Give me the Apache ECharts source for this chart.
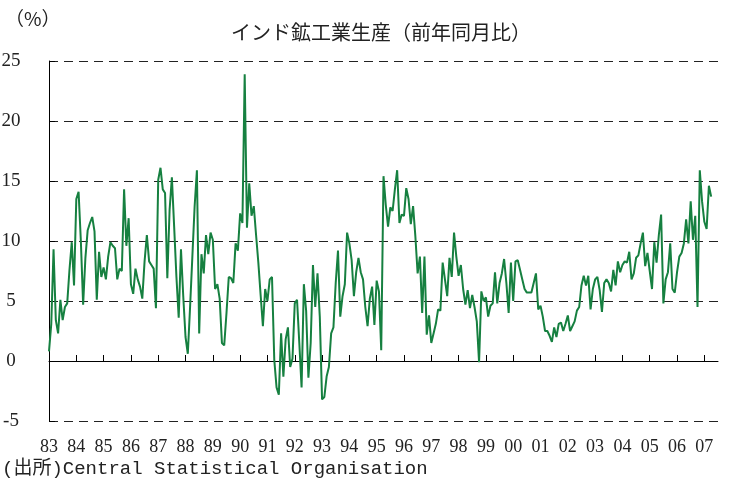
<!DOCTYPE html>
<html>
<head>
<meta charset="utf-8">
<script src="https://cdn.jsdelivr.net/npm/echarts@6/dist/echarts.min.js"></script>
<style>
html,body{margin:0;padding:0;background:#fff;}
#chart{width:731px;height:484px;}
</style>
</head>
<body>
<div id="chart"></div>
<script>
// Year tick labels (two-digit), one per January
const yearLabels = ['83','84','85','86','87','88','89','90','91','92','93','94','95','96','97','98','99','00','01','02','03','04','05','06','07'];
// Months shown on the axis after the last observation (axis runs to Jul 2007)
const trailingEmptyMonths = 3;

// India index of industrial production, y/y % change, monthly from Jan 1983
const yoyGrowth = [
  0.8, 3.1, 9.3, 3.4, 2.3, 5.1, 3.4, 4.5, 4.8, 7.6, 9.9, 6.3,
  13.5, 14.1, 10.0, 4.7, 8.6, 10.9, 11.5, 12.0, 10.8, 5.1, 9.1, 7.0,
  7.8, 6.8, 8.7, 9.9, 9.6, 9.4, 6.8, 7.7, 7.5, 14.3, 9.6, 11.9,
  6.4, 5.6, 7.7, 6.8, 6.2, 5.2, 8.3, 10.5, 8.3, 8.0, 7.7, 4.4,
  15.1, 16.1, 14.3, 14.0, 6.9, 12.6, 15.3, 11.2, 7.0, 3.6, 9.3, 5.4,
  2.0, 0.6, 4.5, 8.7, 12.9, 15.9, 2.3, 8.9, 7.3, 10.5, 8.9, 10.7,
  10.1, 6.0, 6.4, 5.2, 1.5, 1.3, 4.0, 7.0, 6.9, 6.5, 9.8, 9.2,
  12.3, 11.5, 23.9, 11.1, 14.8, 12.1, 12.9, 10.5, 8.2, 5.5, 2.9, 6.0,
  5.0, 6.8, 7.0, 0.1, -2.2, -2.8, 2.3, -1.3, 1.8, 2.8, -0.5, 0.2,
  4.8, 5.1, 1.5, -2.2, 6.4, 4.2, -1.4, 1.5, 8.0, 4.5, 7.3, 3.7,
  -3.2, -3.0, -1.3, -0.5, 2.3, 2.8, 6.5, 9.2, 3.7, 5.4, 6.4, 10.7,
  9.8, 8.4, 5.4, 7.4, 8.6, 7.4, 6.8, 4.5, 2.9, 5.2, 6.2, 3.0,
  6.7, 5.8, 0.9, 15.4, 13.0, 11.2, 12.8, 12.5, 14.3, 15.9, 11.5, 12.2,
  12.1, 14.4, 13.5, 11.4, 12.9, 10.4, 7.3, 8.7, 4.0, 8.7, 2.2, 3.8,
  1.5, 2.3, 3.1, 4.3, 4.2, 8.2, 6.8, 5.4, 8.6, 7.0, 10.7, 8.7,
  7.1, 8.0, 6.0, 4.7, 5.9, 4.4, 5.5, 4.5, 3.3, -0.1, 5.8, 5.0,
  5.3, 3.7, 4.6, 4.8, 7.4, 4.8, 6.5, 7.3, 8.5, 6.5, 4.0, 8.2,
  5.0, 8.3, 8.4, 7.6, 6.8, 6.0, 5.7, 5.7, 5.7, 6.5, 7.3, 4.3,
  4.6, 3.7, 2.5, 2.5, 2.1, 1.6, 2.8, 2.0, 3.1, 3.2, 2.5, 3.1,
  3.8, 2.5, 2.9, 3.3, 4.2, 4.5, 6.3, 7.1, 6.3, 7.1, 4.3, 6.0,
  6.8, 7.0, 5.9, 4.1, 6.5, 6.8, 6.5, 5.8, 7.6, 6.3, 8.3, 7.4,
  8.0, 8.3, 8.2, 9.1, 6.8, 7.3, 8.6, 8.8, 9.8, 10.7, 7.9, 9.0,
  7.5, 6.0, 9.9, 8.2, 10.5, 12.2, 4.8, 6.8, 7.4, 9.8, 6.0, 5.7,
  7.4, 8.7, 9.0, 9.8, 11.8, 9.8, 13.3, 10.1, 12.1, 4.5, 15.9, 13.3,
  11.6, 11.0, 14.6, 13.7
];

// Y axis ticks
const yMin = -5, yMax = 25, yStep = 5;

// Monthly categories: "83" for January, "83/2" ... for other months
const categories = [];
const totalMonths = yoyGrowth.length + trailingEmptyMonths;
for (let i = 0; i < totalMonths; i++) {
  const y = yearLabels[Math.floor(i / 12)];
  const m = i % 12;
  categories.push(m === 0 ? y : y + '/' + (m + 1));
}

const chart = echarts.init(document.getElementById('chart'), null, {renderer: 'canvas'});
const isJan = (idx) => idx % 12 === 0;

chart.setOption({
  animation: false,
  backgroundColor: '#ffffff',
  grid: {left: 49, right: 13, top: 61, bottom: 63, containLabel: false, outerBoundsMode: 'none'},
  graphic: [
    {type: 'text', x: 5, y: 19, style: {text: '（%）', font: '19px "Noto Sans CJK JP"', fill: '#222', align: 'left', verticalAlign: 'middle'}},
    {type: 'text', x: 381, y: 32, style: {text: 'インド鉱工業生産（前年同月比）', font: '20px "Noto Sans CJK JP"', fill: '#222', align: 'center', verticalAlign: 'middle'}},
    {type: 'text', x: 2, y: 469, style: {text: '(出所)Central Statistical Organisation', font: '19px "Liberation Mono", "Noto Sans CJK JP"', fill: '#222', align: 'left', verticalAlign: 'middle'}}
  ],
  xAxis: [
    {
      // year labels along the bottom of the plot
      type: 'category',
      data: categories,
      boundaryGap: false,
      position: 'bottom',
      axisLine: {show: false, onZero: false},
      axisTick: {show: false},
      axisLabel: {
        interval: (idx) => isJan(idx),
        formatter: (v) => v.split('/')[0],
        margin: 17,
        color: '#222',
        fontFamily: 'Liberation Serif',
        fontSize: 18
      },
      splitLine: {show: false}
    },
    {
      // zero line with yearly ticks
      type: 'category',
      data: categories,
      boundaryGap: false,
      position: 'bottom',
      axisLine: {show: true, onZero: true, lineStyle: {color: '#000', width: 1}},
      axisTick: {show: true, inside: true, length: 6, interval: (idx) => isJan(idx) && idx > 0, lineStyle: {color: '#000'}},
      axisLabel: {show: false},
      splitLine: {show: false}
    }
  ],
  yAxis: {
    type: 'value',
    min: yMin, max: yMax, interval: yStep,
    axisLine: {show: true, onZero: false, lineStyle: {color: '#000', width: 1}},
    axisTick: {show: true, inside: true, length: 6, lineStyle: {color: '#000'}},
    axisLabel: {margin: 38, align: 'center', color: '#222', fontFamily: 'Liberation Serif', fontSize: 19},
    splitLine: {show: true, lineStyle: {color: '#222', width: 1, type: [9, 6]}}
  },
  series: [{
    type: 'line',
    xAxisIndex: 0,
    data: yoyGrowth,
    showSymbol: false,
    symbol: 'none',
    lineStyle: {color: '#168040', width: 2},
    itemStyle: {color: '#168040'}
  }]
});
</script>
</body>
</html>
